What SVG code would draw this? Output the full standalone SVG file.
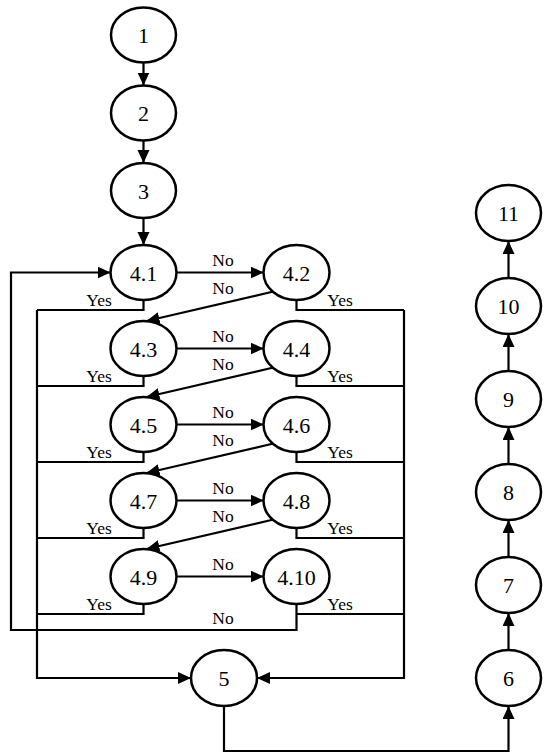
<svg xmlns="http://www.w3.org/2000/svg" width="550" height="755" viewBox="0 0 550 755">
<style>
.node ellipse{fill:#fff;stroke:#000;stroke-width:2.5}
.node text{font-family:'Liberation Serif',serif;font-size:22px;text-anchor:middle;fill:#000}
.edges path{fill:none;stroke:#000;stroke-width:2.2}
.lbl{font-family:'Liberation Serif',serif;font-size:17.5px;text-anchor:middle;fill:#000}
</style>
<defs>
<marker id="ah" markerUnits="userSpaceOnUse" markerWidth="14" markerHeight="13" refX="13" refY="6" orient="auto">
<path d="M0,0 L13,6 L0,12 z" fill="#000"/>
</marker>
</defs>
<g class="edges">
<path d="M143.5,62.5 V85.5" marker-end="url(#ah)"/>
<path d="M143.5,140.5 V163" marker-end="url(#ah)"/>
<path d="M143.5,218 V245" marker-end="url(#ah)"/>
<path d="M176.5,272.5 H263.5" marker-end="url(#ah)"/>
<path d="M176.5,348.5 H263.5" marker-end="url(#ah)"/>
<path d="M176.5,424.5 H263.5" marker-end="url(#ah)"/>
<path d="M176.5,500.5 H263.5" marker-end="url(#ah)"/>
<path d="M176.5,576.5 H263.5" marker-end="url(#ah)"/>
<path d="M273.5,291.5 L146.5,321" marker-end="url(#ah)"/>
<path d="M273.5,367.5 L146.5,397" marker-end="url(#ah)"/>
<path d="M273.5,443.5 L146.5,473" marker-end="url(#ah)"/>
<path d="M273.5,519.5 L146.5,549" marker-end="url(#ah)"/>
<path d="M143.5,300 V310 H37"/>
<path d="M143.5,376 V386 H37"/>
<path d="M143.5,452 V462 H37"/>
<path d="M143.5,528 V538 H37"/>
<path d="M143.5,604 V614 H37"/>
<path d="M37,310 V678 H191" marker-end="url(#ah)"/>
<path d="M296.5,300 V310 H404"/>
<path d="M296.5,376 V386 H404"/>
<path d="M296.5,452 V462 H404"/>
<path d="M296.5,528 V538 H404"/>
<path d="M296.5,614 H404"/>
<path d="M404,310 V678 H257" marker-end="url(#ah)"/>
<path d="M296.5,604 V630 H11 V272.5 H110.5" marker-end="url(#ah)"/>
<path d="M224,706 V751 H508.5 V706" marker-end="url(#ah)"/>
<path d="M508.5,650 V613" marker-end="url(#ah)"/>
<path d="M508.5,557 V520" marker-end="url(#ah)"/>
<path d="M508.5,464 V427" marker-end="url(#ah)"/>
<path d="M508.5,371 V334" marker-end="url(#ah)"/>
<path d="M508.5,278 V241" marker-end="url(#ah)"/>
</g>
<g id="labels">
<text class="lbl" x="223" y="265.5">No</text>
<text class="lbl" x="223" y="293.5">No</text>
<text class="lbl" x="223" y="341.5">No</text>
<text class="lbl" x="223" y="369.5">No</text>
<text class="lbl" x="223" y="417.5">No</text>
<text class="lbl" x="223" y="445.5">No</text>
<text class="lbl" x="223" y="493.5">No</text>
<text class="lbl" x="223" y="521.5">No</text>
<text class="lbl" x="223" y="569.5">No</text>
<text class="lbl" x="223" y="623.5">No</text>
<text class="lbl" x="99" y="306">Yes</text>
<text class="lbl" x="99" y="382">Yes</text>
<text class="lbl" x="99" y="458">Yes</text>
<text class="lbl" x="99" y="534">Yes</text>
<text class="lbl" x="99" y="610">Yes</text>
<text class="lbl" x="340" y="306">Yes</text>
<text class="lbl" x="340" y="382">Yes</text>
<text class="lbl" x="340" y="458">Yes</text>
<text class="lbl" x="340" y="534">Yes</text>
<text class="lbl" x="340" y="610">Yes</text>
</g>
<g id="n1" class="node"><ellipse cx="143.5" cy="35" rx="32.5" ry="27.5"/><text x="143.5" y="43">1</text></g>
<g id="n2" class="node"><ellipse cx="143.5" cy="113" rx="32.5" ry="27.5"/><text x="143.5" y="121">2</text></g>
<g id="n3" class="node"><ellipse cx="143.5" cy="190.5" rx="32.5" ry="27.5"/><text x="143.5" y="198.5">3</text></g>
<g id="n4_1" class="node"><ellipse cx="143.5" cy="272.5" rx="33" ry="27.5"/><text x="143.5" y="280.5">4.1</text></g>
<g id="n4_2" class="node"><ellipse cx="296.5" cy="272.5" rx="33" ry="27.5"/><text x="296.5" y="280.5">4.2</text></g>
<g id="n4_3" class="node"><ellipse cx="143.5" cy="348.5" rx="33" ry="27.5"/><text x="143.5" y="356.5">4.3</text></g>
<g id="n4_4" class="node"><ellipse cx="296.5" cy="348.5" rx="33" ry="27.5"/><text x="296.5" y="356.5">4.4</text></g>
<g id="n4_5" class="node"><ellipse cx="143.5" cy="424.5" rx="33" ry="27.5"/><text x="143.5" y="432.5">4.5</text></g>
<g id="n4_6" class="node"><ellipse cx="296.5" cy="424.5" rx="33" ry="27.5"/><text x="296.5" y="432.5">4.6</text></g>
<g id="n4_7" class="node"><ellipse cx="143.5" cy="500.5" rx="33" ry="27.5"/><text x="143.5" y="508.5">4.7</text></g>
<g id="n4_8" class="node"><ellipse cx="296.5" cy="500.5" rx="33" ry="27.5"/><text x="296.5" y="508.5">4.8</text></g>
<g id="n4_9" class="node"><ellipse cx="143.5" cy="576.5" rx="33" ry="27.5"/><text x="143.5" y="584.5">4.9</text></g>
<g id="n4_10" class="node"><ellipse cx="296.5" cy="576.5" rx="33" ry="27.5"/><text x="296.5" y="584.5">4.10</text></g>
<g id="n5" class="node"><ellipse cx="224" cy="678" rx="33" ry="28"/><text x="224" y="686">5</text></g>
<g id="n6" class="node"><ellipse cx="508.5" cy="678" rx="32.5" ry="28"/><text x="508.5" y="686">6</text></g>
<g id="n7" class="node"><ellipse cx="508.5" cy="585" rx="32.5" ry="28"/><text x="508.5" y="593">7</text></g>
<g id="n8" class="node"><ellipse cx="508.5" cy="492" rx="32.5" ry="28"/><text x="508.5" y="500">8</text></g>
<g id="n9" class="node"><ellipse cx="508.5" cy="399" rx="32.5" ry="28"/><text x="508.5" y="407">9</text></g>
<g id="n10" class="node"><ellipse cx="508.5" cy="306" rx="32.5" ry="28"/><text x="508.5" y="314">10</text></g>
<g id="n11" class="node"><ellipse cx="508.5" cy="213" rx="32.5" ry="28"/><text x="508.5" y="221">11</text></g>
</svg>
